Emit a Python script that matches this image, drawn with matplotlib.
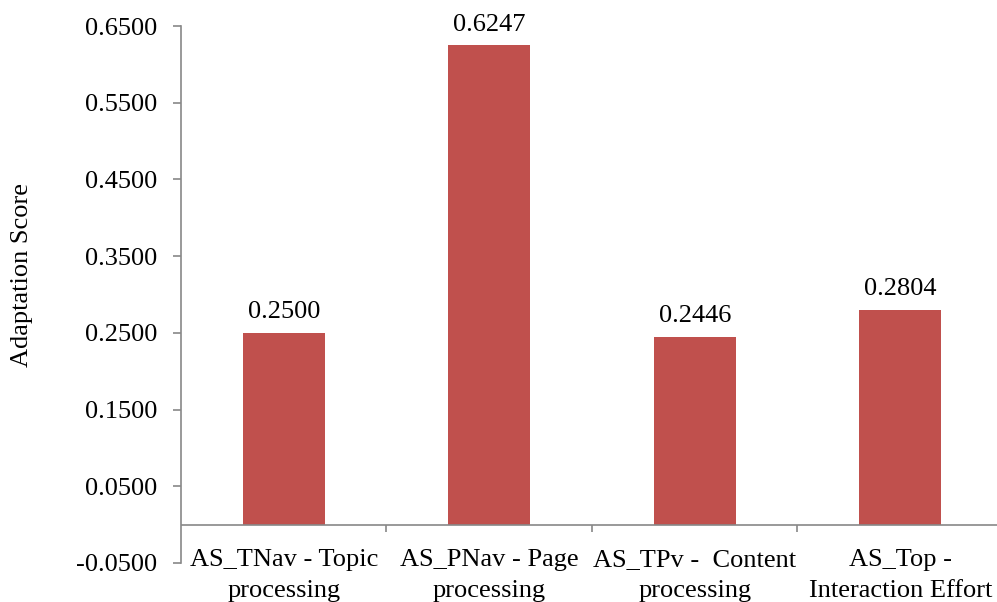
import matplotlib
matplotlib.use("Agg")
import matplotlib.pyplot as plt
from matplotlib.ticker import FixedLocator, FormatStrFormatter

# dane wykresu
categories = ["AS_TNav - Topic\nprocessing", "AS_PNav - Page\nprocessing",
              "AS_TPv -  Content\nprocessing", "AS_Top -\nInteraction Effort"]
scores = [0.2500, 0.6247, 0.2446, 0.2804]
y_ticks = [-0.05, 0.05, 0.15, 0.25, 0.35, 0.45, 0.55, 0.65]

plt.rcParams['font.family'] = ['Liberation Serif', 'DejaVu Serif']
plt.rcParams['font.size'] = 19

fig = plt.figure(figsize=(9.97, 6.02), dpi=100)
ax = fig.add_axes([0.1815, 0.0648, 0.8245, 0.892])

bar_color = "#C0504D"
axis_color = "#888888"
x = list(range(len(scores)))
bars = ax.bar(x, scores, width=0.4, color=bar_color)

# etykiety wartości nad słupkami
for rect, val in zip(bars, scores):
    ax.annotate(f"{val:.4f}", (rect.get_x() + rect.get_width() / 2, val),
                xytext=(0, 7), textcoords="offset points",
                ha="center", va="bottom", fontsize=19)

ax.set_xlim(-0.5, len(scores) - 0.5)
ax.set_ylim(-0.05, 0.65)
ax.yaxis.set_major_locator(FixedLocator(y_ticks))
ax.yaxis.set_major_formatter(FormatStrFormatter("%.4f"))
ax.tick_params(axis="y", length=6, width=1.2, color=axis_color, pad=11)

# oś X w zerze + znaczniki między kategoriami
ax.spines["top"].set_visible(False)
ax.spines["right"].set_visible(False)
ax.spines["bottom"].set_visible(False)
ax.spines["left"].set_color(axis_color)
ax.spines["left"].set_linewidth(1.2)
ax.axhline(0, color=axis_color, linewidth=1.2)
ax.vlines([0.5, 1.5, 2.5, 3.5], -0.009, 0, color=axis_color, linewidth=1.2)

ax.set_xticks(x)
ax.set_xticklabels(categories, linespacing=1.5)
ax.tick_params(axis="x", length=0, pad=-10)

ax.set_ylabel("Adaptation Score", fontsize=19)
ax.yaxis.set_label_coords(-0.180, 0.536)

fig.savefig("out.png", dpi=100)
